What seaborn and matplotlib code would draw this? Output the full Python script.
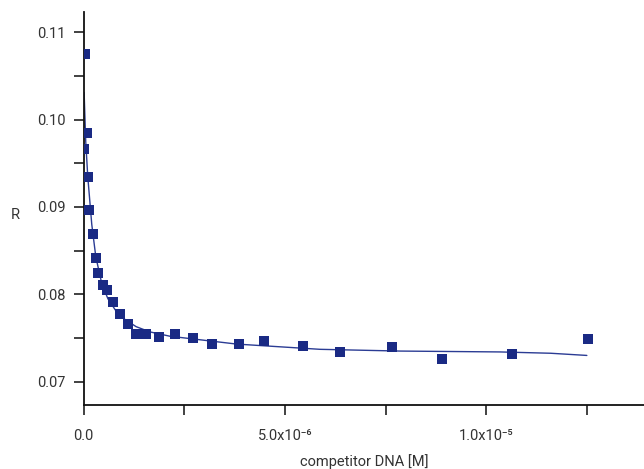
import numpy as np
import pandas as pd
import seaborn as sns
import matplotlib.pyplot as plt
from matplotlib.ticker import MultipleLocator, FixedLocator, FixedFormatter

# measured points
conc_uM = [0.03, 0.08, 0.005, 0.10, 0.13, 0.23, 0.30, 0.35, 0.47, 0.57, 0.72, 0.89,
           1.10, 1.30, 1.54, 1.88, 2.28, 2.71, 3.19, 3.86, 4.48, 5.44, 6.37, 7.66,
           8.90, 10.64, 12.53]
ratio = [0.1075, 0.0985, 0.0966, 0.0934, 0.0897, 0.0869, 0.0841, 0.0824, 0.0811,
         0.0805, 0.0791, 0.0777, 0.0766, 0.0754, 0.0755, 0.0751, 0.0755, 0.0750,
         0.0743, 0.0743, 0.0747, 0.0741, 0.0734, 0.0740, 0.0726, 0.0732, 0.0749]

# fitted curve
fit_uM = [0.01, 0.05, 0.10, 0.20, 0.30, 0.45, 0.60, 0.80, 1.00, 1.30, 1.64, 2.14,
          3.80, 5.87, 7.86, 10.34, 11.60, 12.50]
fit_ratio = [0.1031, 0.0975, 0.0935, 0.0880, 0.0843, 0.0812, 0.0795, 0.0781, 0.0772,
             0.0763, 0.0757, 0.0752, 0.0743, 0.0737, 0.0735, 0.0734, 0.07325, 0.0730]

x_ticks = [0, 5e-6, 1e-5]
x_ticklabels = ["0.0", "5.0x10⁻⁶", "1.0x10⁻⁵"]

navy = "#1a2a84"

pts = pd.DataFrame({"x": np.array(conc_uM) * 1e-6, "y": ratio})
fit = pd.DataFrame({"x": np.array(fit_uM) * 1e-6, "y": fit_ratio})

sns.set_style("ticks")
plt.rcParams["font.family"] = ["Roboto", "DejaVu Sans"]

fig = plt.figure(figsize=(6.44, 4.69), dpi=100)
ax = fig.add_axes([0.130, 0.136, 0.870, 0.838])

sns.lineplot(data=fit, x="x", y="y", ax=ax, color="#2b3c94", linewidth=1.0, sort=False)
sns.scatterplot(data=pts, x="x", y="y", ax=ax, color=navy, marker="s", s=55,
                edgecolor=navy, linewidth=0, zorder=3)

ax.set_xlim(0, 1.392e-5)
ax.set_ylim(0.0673, 0.1123)

ax.xaxis.set_major_locator(FixedLocator(x_ticks))
ax.xaxis.set_major_formatter(FixedFormatter(x_ticklabels))
ax.xaxis.set_minor_locator(FixedLocator([2.5e-6, 7.5e-6, 1.25e-5]))
ax.yaxis.set_major_locator(MultipleLocator(0.01))
ax.yaxis.set_minor_locator(MultipleLocator(0.005))
ax.yaxis.set_major_formatter(plt.FormatStrFormatter("%.2f"))

ax.tick_params(which="both", direction="out", length=7, width=1.3, color="#333333",
               labelsize=10.5, labelcolor="#333333")
ax.tick_params(axis="x", pad=10)
ax.tick_params(axis="y", pad=6)

for s in ["top", "right"]:
    ax.spines[s].set_visible(False)
for s in ["left", "bottom"]:
    ax.spines[s].set_linewidth(1.3)
    ax.spines[s].set_color("#111111")

ax.set_xlabel("competitor DNA [M]", fontsize=10.5, color="#333333")
ax.xaxis.set_label_coords(0.5, -0.142)
ax.xaxis.label.set_va("center")
ax.set_ylabel("R", fontsize=10.5, color="#333333", rotation=0, ha="center", va="center")
ax.yaxis.set_label_coords(-0.123, 0.483)

fig.savefig("out.png", dpi=100)
